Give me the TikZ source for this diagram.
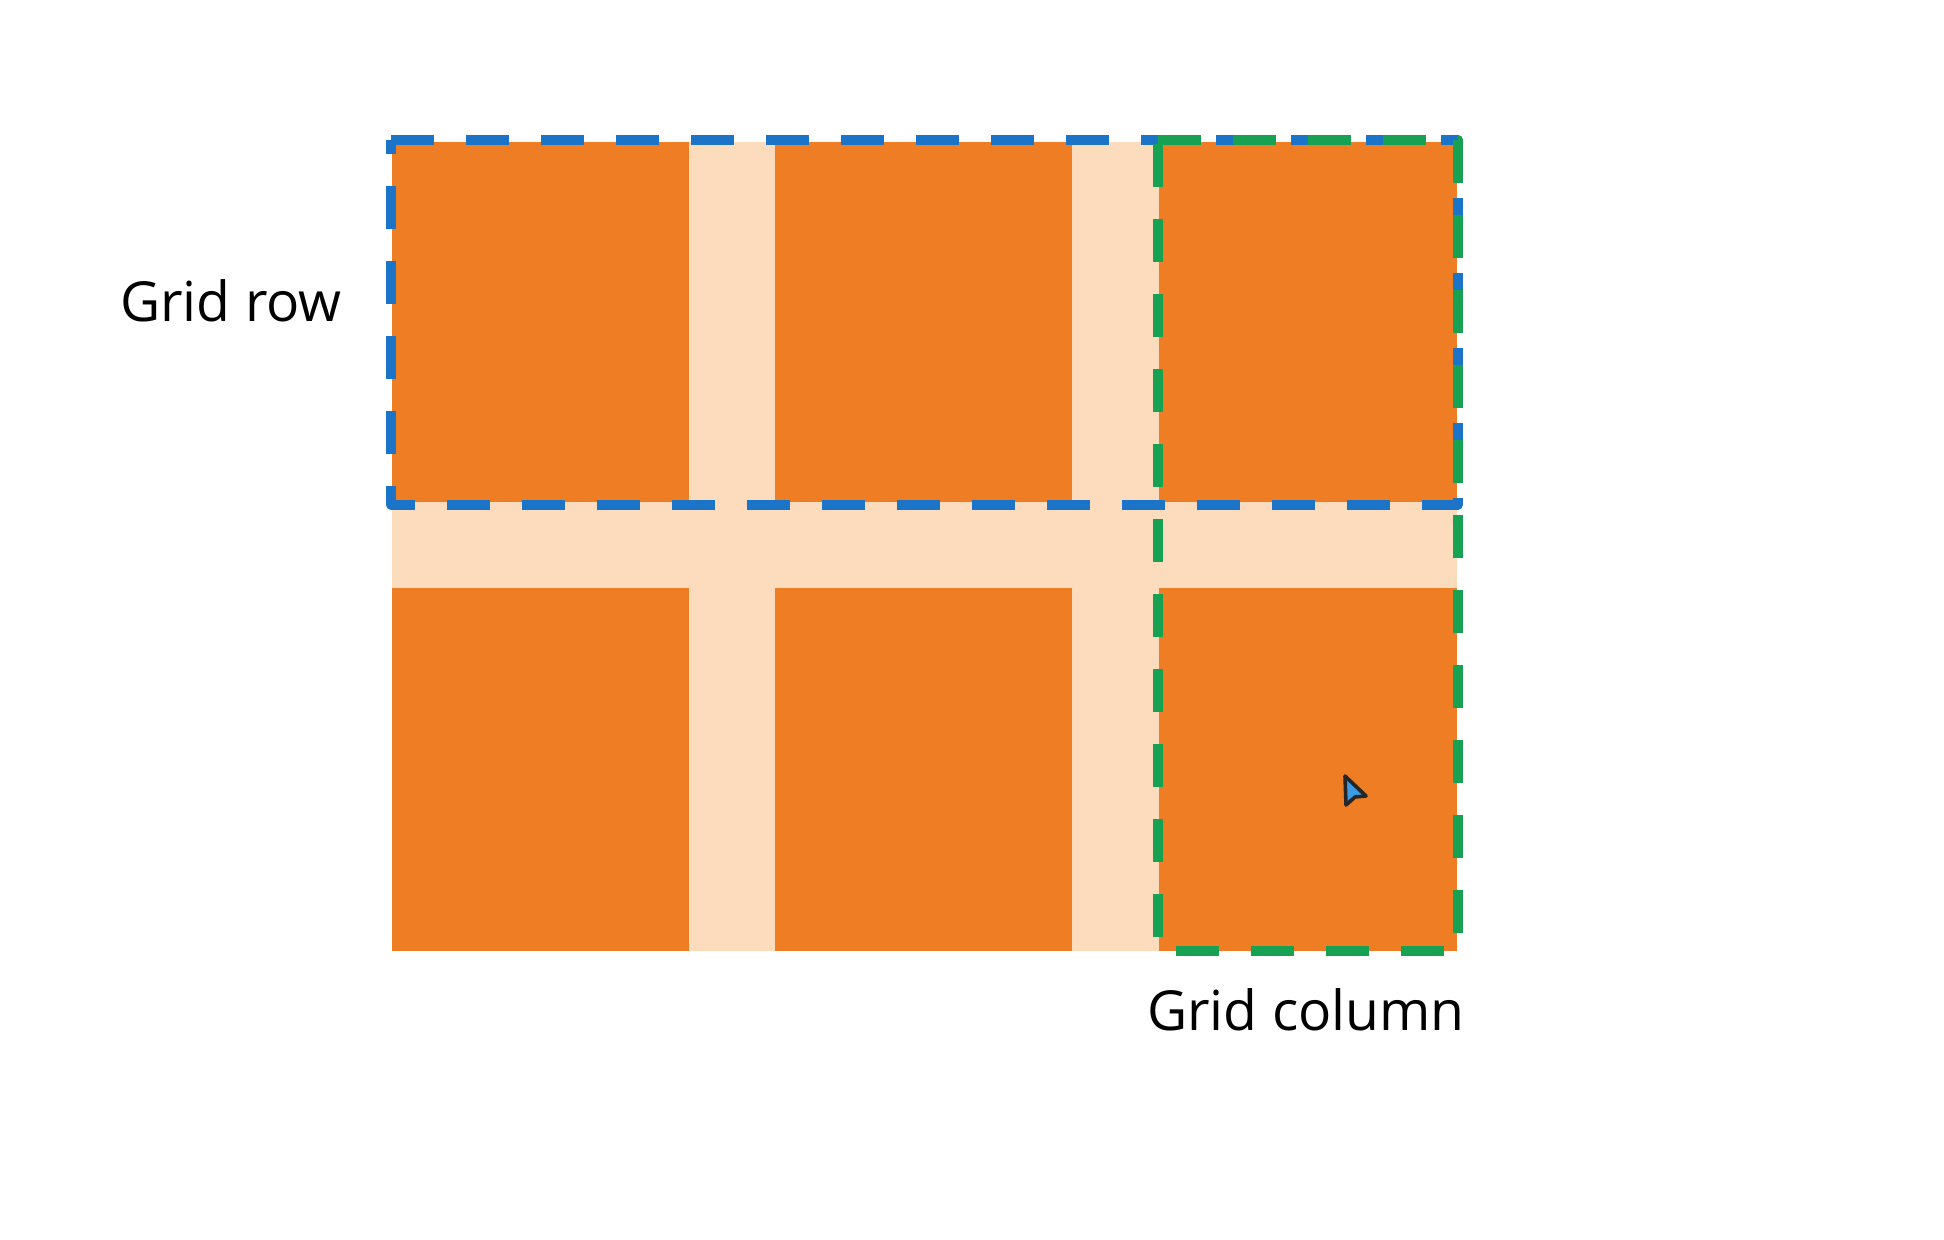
\documentclass[tikz,border=0pt]{standalone}
\usepackage{fontspec}
\setmainfont{Open Sans}
\definecolor{cellorange}{HTML}{EE7D23}
\definecolor{gappeach}{HTML}{FDDCBE}
\definecolor{rowblue}{HTML}{1B74C8}
\definecolor{colgreen}{HTML}{17A152}
\definecolor{cursorblue}{HTML}{3C9BE2}
\tikzset{
  cell/.style={fill=cellorange, draw=none},
  rowbox/.style={draw=rowblue, line width=4.6pt, dash pattern=on 21.5pt off 16pt, line join=round, line cap=butt},
  colbox/.style={draw=colgreen, line width=4.6pt, dash pattern=on 21.5pt off 16pt, line join=round, line cap=butt},
  lbl/.style={font=\fontsize{27.6}{32}\selectfont, text=black, inner sep=0pt, anchor=base}
}
\begin{document}
\begin{tikzpicture}[x=0.5pt, y=-0.5pt]
\useasboundingbox (0,0) rectangle (1944,1240);
\fill[white] (0,0) rectangle (1944,1240);
% gap background
\fill[gappeach] (392,142) rectangle (1457,951);
% cells
\fill[cell] (392,142) rectangle (689,502);
\fill[cell] (775,142) rectangle (1072,502);
\fill[cell] (1159,142) rectangle (1457,502);
\fill[cell] (392,588) rectangle (689,951);
\fill[cell] (775,588) rectangle (1072,951);
\fill[cell] (1159,588) rectangle (1457,951);
% grid row outline
\draw[rowbox] (391,140) -- (1458,140) -- (1458,505) -- (391,505) -- cycle;
% grid column outline
\draw[colbox] (1158,140) -- (1458,140) -- (1458,951) -- (1158,951) -- cycle;
% labels
\node[lbl] (rowlbl) at (231,322) {Grid row};
\node[lbl] (collbl) at (1306,1030) {Grid column};
% cursor
\filldraw[fill=cursorblue, draw=black!85, line width=1.8pt, line join=round]
  (1345,776) -- (1366,796) -- (1355,797) -- (1346,805) -- cycle;
\end{tikzpicture}
\end{document}
